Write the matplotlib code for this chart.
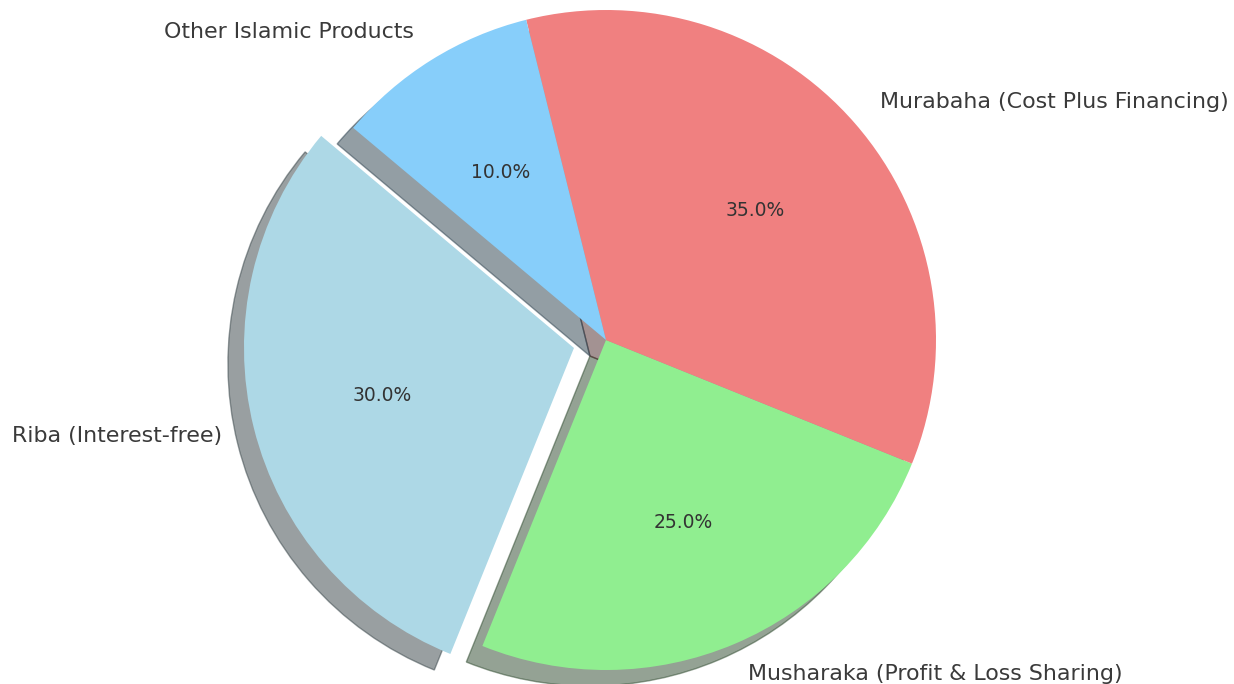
import numpy as np
import matplotlib
matplotlib.use("Agg")
import matplotlib.pyplot as plt

# data
labels = ['Riba (Interest-free)', 'Musharaka (Profit & Loss Sharing)',
          'Murabaha (Cost Plus Financing)', 'Other Islamic Products']
shares = [30, 25, 35, 10]
colors = ['lightblue', 'lightgreen', 'lightcoral', 'lightskyblue']
explode = [0.1, 0, 0, 0]

fig = plt.figure(figsize=(12.34, 6.84), dpi=100)
ax = fig.add_axes([0, 0, 1, 1])

wedges, texts, autotexts = ax.pie(shares, labels=labels, colors=colors, explode=explode,
                                  autopct='%1.1f%%', startangle=140,
                                  shadow={'ox': -0.035, 'oy': -0.035},
                                  textprops={'fontsize': 15.9, 'color': '#3a3a3a'})
for t in autotexts:
    t.set_fontsize(13.5)
    t.set_color('#333333')

# pie centre ~ (606, 340) px, radius ~330 px
r = 330.0
cx, cy = 606.0, 340.0
ax.set_aspect('auto')
ax.set_xlim(-cx / r, (1234 - cx) / r)
ax.set_ylim(-(684 - cy) / r, cy / r)
ax.axis('off')

fig.savefig('out.png', dpi=100)
